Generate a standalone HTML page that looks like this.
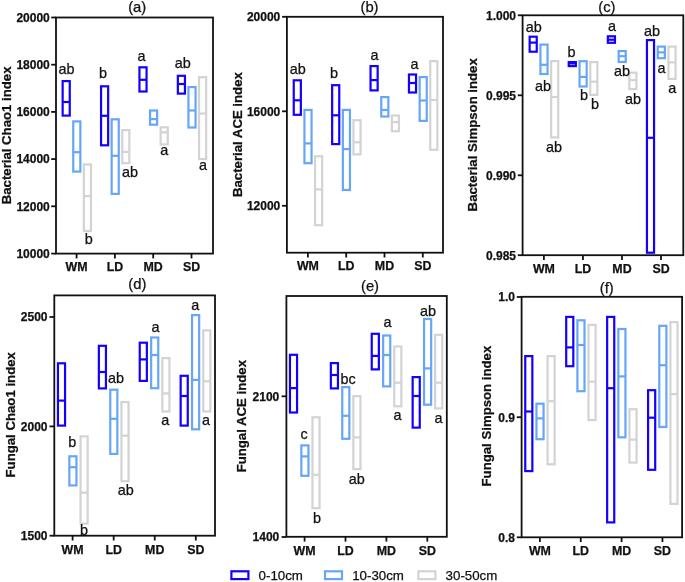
<!DOCTYPE html>
<html><head><meta charset="utf-8"><style>
html,body{margin:0;padding:0;background:#fff;}
body{width:685px;height:582px;overflow:hidden;}
svg{display:block;will-change:transform;font-family:"Liberation Sans",sans-serif;}
text{fill:#111;stroke:#111;stroke-width:0.25px;}
</style></head><body>
<svg width="685" height="582" viewBox="0 0 685 582">
<rect width="685" height="582" fill="#fff"/>
<g fill="none" stroke-width="2.2"><rect x="62.65" y="81.1" width="7.1" height="34.5" stroke="#1400ff"/><line x1="62.65" x2="69.75" y1="102" y2="102" stroke="#1400ff"/><rect x="73.25" y="121.4" width="7.1" height="50.2" stroke="#65a6f9"/><line x1="73.25" x2="80.35" y1="152.2" y2="152.2" stroke="#65a6f9"/><rect x="83.85" y="164.4" width="7.1" height="66.6" stroke="#d3d3d3"/><line x1="83.85" x2="90.95" y1="196.1" y2="196.1" stroke="#d3d3d3"/><rect x="101.05" y="86.3" width="7.1" height="59" stroke="#1400ff"/><line x1="101.05" x2="108.15" y1="115.8" y2="115.8" stroke="#1400ff"/><rect x="111.65" y="119.3" width="7.1" height="74.6" stroke="#65a6f9"/><line x1="111.65" x2="118.75" y1="155.8" y2="155.8" stroke="#65a6f9"/><rect x="122.25" y="130.1" width="7.1" height="33.1" stroke="#d3d3d3"/><line x1="122.25" x2="129.35" y1="151.9" y2="151.9" stroke="#d3d3d3"/><rect x="139.45" y="67.3" width="7.1" height="24.2" stroke="#1400ff"/><line x1="139.45" x2="146.55" y1="79.8" y2="79.8" stroke="#1400ff"/><rect x="150.05" y="110.5" width="7.1" height="14.2" stroke="#65a6f9"/><line x1="150.05" x2="157.15" y1="119.1" y2="119.1" stroke="#65a6f9"/><rect x="160.65" y="127.3" width="7.1" height="17.1" stroke="#d3d3d3"/><line x1="160.65" x2="167.75" y1="132.3" y2="132.3" stroke="#d3d3d3"/><rect x="177.85" y="75.8" width="7.1" height="17.8" stroke="#1400ff"/><line x1="177.85" x2="184.95" y1="84" y2="84" stroke="#1400ff"/><rect x="188.45" y="87.1" width="7.1" height="40.4" stroke="#65a6f9"/><line x1="188.45" x2="195.55" y1="110.5" y2="110.5" stroke="#65a6f9"/><rect x="199.05" y="77.2" width="7.1" height="81.9" stroke="#d3d3d3"/><line x1="199.05" x2="206.15" y1="113.5" y2="113.5" stroke="#d3d3d3"/></g>
<g fill="none" stroke="#111111" stroke-width="1.8"><rect x="56" y="17.5" width="157" height="236.1"/><line x1="76.6" x2="76.6" y1="253.6" y2="258.4"/><line x1="114.9" x2="114.9" y1="253.6" y2="258.4"/><line x1="153.2" x2="153.2" y1="253.6" y2="258.4"/><line x1="191.5" x2="191.5" y1="253.6" y2="258.4"/><line x1="51.2" x2="56" y1="17.5" y2="17.5"/><line x1="51.2" x2="56" y1="64.7" y2="64.7"/><line x1="51.2" x2="56" y1="111.9" y2="111.9"/><line x1="51.2" x2="56" y1="159.1" y2="159.1"/><line x1="51.2" x2="56" y1="206.3" y2="206.3"/><line x1="51.2" x2="56" y1="253.6" y2="253.6"/></g>
<g font-weight="bold" font-size="12.0" text-anchor="end"><text x="49.8" y="21.82">20000</text><text x="49.8" y="69.02">18000</text><text x="49.8" y="116.22">16000</text><text x="49.8" y="163.42">14000</text><text x="49.8" y="210.62">12000</text><text x="49.8" y="257.92">10000</text></g>
<g font-weight="bold" font-size="12.4" text-anchor="middle"><text x="76.6" y="271">WM</text><text x="114.9" y="271">LD</text><text x="153.2" y="271">MD</text><text x="191.5" y="271">SD</text></g>
<text font-weight="bold" font-size="13.2" text-anchor="middle" transform="translate(6 135.4) rotate(-90)" y="4.75">Bacterial Chao1 index</text>
<text font-size="14.8" text-anchor="middle" x="137.2" y="12">(a)</text>
<g font-size="14.4" text-anchor="middle"><text x="66.6" y="74.2">ab</text><text x="103" y="78.4">b</text><text x="88.8" y="244">b</text><text x="130" y="177.4">ab</text><text x="141.6" y="61.3">a</text><text x="164.2" y="155.1">a</text><text x="182.8" y="67.9">ab</text><text x="202.9" y="169.8">a</text></g>
<g fill="none" stroke-width="2.2"><rect x="293.75" y="80.3" width="7.1" height="34.5" stroke="#1400ff"/><line x1="293.75" x2="300.85" y1="100.3" y2="100.3" stroke="#1400ff"/><rect x="304.45" y="109.9" width="7.1" height="53.3" stroke="#65a6f9"/><line x1="304.45" x2="311.55" y1="143.4" y2="143.4" stroke="#65a6f9"/><rect x="315.05" y="156.3" width="7.1" height="68.9" stroke="#d3d3d3"/><line x1="315.05" x2="322.15" y1="189.4" y2="189.4" stroke="#d3d3d3"/><rect x="332.15" y="85.2" width="7.1" height="58.9" stroke="#1400ff"/><line x1="332.15" x2="339.25" y1="115.3" y2="115.3" stroke="#1400ff"/><rect x="342.85" y="109.9" width="7.1" height="80.1" stroke="#65a6f9"/><line x1="342.85" x2="349.95" y1="149.1" y2="149.1" stroke="#65a6f9"/><rect x="353.45" y="120.2" width="7.1" height="34.2" stroke="#d3d3d3"/><line x1="353.45" x2="360.55" y1="142.3" y2="142.3" stroke="#d3d3d3"/><rect x="370.55" y="66.1" width="7.1" height="24.3" stroke="#1400ff"/><line x1="370.55" x2="377.65" y1="80.1" y2="80.1" stroke="#1400ff"/><rect x="381.25" y="97.1" width="7.1" height="19.4" stroke="#65a6f9"/><line x1="381.25" x2="388.35" y1="110" y2="110" stroke="#65a6f9"/><rect x="391.85" y="115.5" width="7.1" height="15.7" stroke="#d3d3d3"/><line x1="391.85" x2="398.95" y1="122.1" y2="122.1" stroke="#d3d3d3"/><rect x="408.95" y="74.5" width="7.1" height="18" stroke="#1400ff"/><line x1="408.95" x2="416.05" y1="83" y2="83" stroke="#1400ff"/><rect x="419.65" y="77.1" width="7.1" height="43.8" stroke="#65a6f9"/><line x1="419.65" x2="426.75" y1="100.5" y2="100.5" stroke="#65a6f9"/><rect x="430.25" y="61.1" width="7.1" height="88.7" stroke="#d3d3d3"/><line x1="430.25" x2="437.35" y1="100" y2="100" stroke="#d3d3d3"/></g>
<g fill="none" stroke="#111111" stroke-width="1.8"><rect x="286.9" y="16.8" width="156.1" height="235.9"/><line x1="307.9" x2="307.9" y1="252.7" y2="257.5"/><line x1="346.2" x2="346.2" y1="252.7" y2="257.5"/><line x1="384.5" x2="384.5" y1="252.7" y2="257.5"/><line x1="422.8" x2="422.8" y1="252.7" y2="257.5"/><line x1="282.1" x2="286.9" y1="16.8" y2="16.8"/><line x1="282.1" x2="286.9" y1="111.3" y2="111.3"/><line x1="282.1" x2="286.9" y1="205.8" y2="205.8"/></g>
<g font-weight="bold" font-size="12.0" text-anchor="end"><text x="280.3" y="21.12">20000</text><text x="280.3" y="115.62">16000</text><text x="280.3" y="210.12">12000</text></g>
<g font-weight="bold" font-size="12.4" text-anchor="middle"><text x="307.9" y="270">WM</text><text x="346.2" y="270">LD</text><text x="384.5" y="270">MD</text><text x="422.8" y="270">SD</text></g>
<text font-weight="bold" font-size="13.2" text-anchor="middle" transform="translate(236.8 134.6) rotate(-90)" y="4.75">Bacterial ACE index</text>
<text font-size="14.8" text-anchor="middle" x="369.5" y="11.8">(b)</text>
<g font-size="14.4" text-anchor="middle"><text x="297.7" y="74.4">ab</text><text x="334.1" y="77.9">b</text><text x="374.4" y="60.2">a</text><text x="414.5" y="69.3">a</text></g>
<g fill="none" stroke-width="2.2"><rect x="529.65" y="36.7" width="7.1" height="15" stroke="#1400ff"/><line x1="529.65" x2="536.75" y1="42.6" y2="42.6" stroke="#1400ff"/><rect x="540.45" y="44.6" width="7.1" height="29.4" stroke="#65a6f9"/><line x1="540.45" x2="547.55" y1="64.8" y2="64.8" stroke="#65a6f9"/><rect x="551.15" y="61.1" width="7.1" height="76.3" stroke="#d3d3d3"/><line x1="551.15" x2="558.25" y1="97" y2="97" stroke="#d3d3d3"/><rect x="568.75" y="62.1" width="7.1" height="4" stroke="#1400ff"/><line x1="568.75" x2="575.85" y1="63.4" y2="63.4" stroke="#1400ff"/><rect x="579.55" y="61.2" width="7.1" height="25.3" stroke="#65a6f9"/><line x1="579.55" x2="586.65" y1="76.9" y2="76.9" stroke="#65a6f9"/><rect x="590.25" y="62.1" width="7.1" height="32.8" stroke="#d3d3d3"/><line x1="590.25" x2="597.35" y1="81.7" y2="81.7" stroke="#d3d3d3"/><rect x="607.85" y="36.3" width="7.1" height="6.5" stroke="#1400ff"/><line x1="607.85" x2="614.95" y1="39.7" y2="39.7" stroke="#1400ff"/><rect x="618.65" y="51.1" width="7.1" height="10.9" stroke="#65a6f9"/><line x1="618.65" x2="625.75" y1="56.2" y2="56.2" stroke="#65a6f9"/><rect x="629.35" y="72.7" width="7.1" height="16.4" stroke="#d3d3d3"/><line x1="629.35" x2="636.45" y1="80" y2="80" stroke="#d3d3d3"/><rect x="646.95" y="40.1" width="7.1" height="212.6" stroke="#1400ff"/><line x1="646.95" x2="654.05" y1="137.8" y2="137.8" stroke="#1400ff"/><rect x="657.75" y="46.6" width="7.1" height="11.6" stroke="#65a6f9"/><line x1="657.75" x2="664.85" y1="52.4" y2="52.4" stroke="#65a6f9"/><rect x="668.45" y="46.6" width="7.1" height="32.3" stroke="#d3d3d3"/><line x1="668.45" x2="675.55" y1="62.4" y2="62.4" stroke="#d3d3d3"/></g>
<g fill="none" stroke="#111111" stroke-width="1.8"><rect x="522.6" y="15.3" width="160.7" height="239.9"/><line x1="543.9" x2="543.9" y1="255.2" y2="260"/><line x1="582.94" x2="582.94" y1="255.2" y2="260"/><line x1="621.98" x2="621.98" y1="255.2" y2="260"/><line x1="661.02" x2="661.02" y1="255.2" y2="260"/><line x1="517.8" x2="522.6" y1="15.3" y2="15.3"/><line x1="517.8" x2="522.6" y1="95.3" y2="95.3"/><line x1="517.8" x2="522.6" y1="175.3" y2="175.3"/><line x1="517.8" x2="522.6" y1="255.2" y2="255.2"/></g>
<g font-weight="bold" font-size="12.0" text-anchor="end"><text x="516" y="19.62">1.000</text><text x="516" y="99.62">0.995</text><text x="516" y="179.62">0.990</text><text x="516" y="259.52">0.985</text></g>
<g font-weight="bold" font-size="12.4" text-anchor="middle"><text x="543.9" y="272.6">WM</text><text x="582.94" y="272.6">LD</text><text x="621.98" y="272.6">MD</text><text x="661.02" y="272.6">SD</text></g>
<text font-weight="bold" font-size="13.2" text-anchor="middle" transform="translate(472.1 134.8) rotate(-90)" y="4.75">Bacterial Simpson index</text>
<text font-size="14.8" text-anchor="middle" x="606.9" y="11.8">(c)</text>
<g font-size="14.4" text-anchor="middle"><text x="533.7" y="31.5">ab</text><text x="543.1" y="90.6">ab</text><text x="554" y="152">ab</text><text x="571.6" y="56.5">b</text><text x="583.9" y="100.4">b</text><text x="595" y="109.4">b</text><text x="612.1" y="31.2">a</text><text x="622" y="76.2">ab</text><text x="632.9" y="103.6">ab</text><text x="652" y="35.9">ab</text><text x="661.4" y="73.4">a</text><text x="672.2" y="92.7">a</text></g>
<g fill="none" stroke-width="2.2"><rect x="57.95" y="363.3" width="7.1" height="62.3" stroke="#1400ff"/><line x1="57.95" x2="65.05" y1="400.6" y2="400.6" stroke="#1400ff"/><rect x="69.35" y="456.3" width="7.1" height="29.1" stroke="#65a6f9"/><line x1="69.35" x2="76.45" y1="467.2" y2="467.2" stroke="#65a6f9"/><rect x="80.55" y="436.4" width="7.1" height="87.2" stroke="#d3d3d3"/><line x1="80.55" x2="87.65" y1="492.7" y2="492.7" stroke="#d3d3d3"/><rect x="98.85" y="345.8" width="7.1" height="42.6" stroke="#1400ff"/><line x1="98.85" x2="105.95" y1="372" y2="372" stroke="#1400ff"/><rect x="110.25" y="389.7" width="7.1" height="64.2" stroke="#65a6f9"/><line x1="110.25" x2="117.35" y1="418.8" y2="418.8" stroke="#65a6f9"/><rect x="121.45" y="402" width="7.1" height="79.2" stroke="#d3d3d3"/><line x1="121.45" x2="128.55" y1="435.7" y2="435.7" stroke="#d3d3d3"/><rect x="139.75" y="342.7" width="7.1" height="38.2" stroke="#1400ff"/><line x1="139.75" x2="146.85" y1="359.4" y2="359.4" stroke="#1400ff"/><rect x="151.15" y="337.5" width="7.1" height="50.7" stroke="#65a6f9"/><line x1="151.15" x2="158.25" y1="355" y2="355" stroke="#65a6f9"/><rect x="162.35" y="358.1" width="7.1" height="53.4" stroke="#d3d3d3"/><line x1="162.35" x2="169.45" y1="393.4" y2="393.4" stroke="#d3d3d3"/><rect x="180.65" y="375.8" width="7.1" height="49.8" stroke="#1400ff"/><line x1="180.65" x2="187.75" y1="396" y2="396" stroke="#1400ff"/><rect x="192.05" y="315.1" width="7.1" height="114.2" stroke="#65a6f9"/><line x1="192.05" x2="199.15" y1="379.9" y2="379.9" stroke="#65a6f9"/><rect x="203.25" y="330.4" width="7.1" height="81.1" stroke="#d3d3d3"/><line x1="203.25" x2="210.35" y1="381.3" y2="381.3" stroke="#d3d3d3"/></g>
<g fill="none" stroke="#111111" stroke-width="1.8"><rect x="54.3" y="295.4" width="160.7" height="240.3"/><line x1="72.6" x2="72.6" y1="535.7" y2="540.5"/><line x1="113.67" x2="113.67" y1="535.7" y2="540.5"/><line x1="154.74" x2="154.74" y1="535.7" y2="540.5"/><line x1="195.81" x2="195.81" y1="535.7" y2="540.5"/><line x1="49.5" x2="54.3" y1="317" y2="317"/><line x1="49.5" x2="54.3" y1="426.4" y2="426.4"/><line x1="49.5" x2="54.3" y1="535.7" y2="535.7"/></g>
<g font-weight="bold" font-size="12.0" text-anchor="end"><text x="47.5" y="321.32">2500</text><text x="47.5" y="430.72">2000</text><text x="47.5" y="540.02">1500</text></g>
<g font-weight="bold" font-size="12.4" text-anchor="middle"><text x="72.6" y="554">WM</text><text x="113.67" y="554">LD</text><text x="154.74" y="554">MD</text><text x="195.81" y="554">SD</text></g>
<text font-weight="bold" font-size="13.2" text-anchor="middle" transform="translate(10 414.8) rotate(-90)" y="4.75">Fungal Chao1 index</text>
<text font-size="14.8" text-anchor="middle" x="137.4" y="288.8">(d)</text>
<g font-size="14.4" text-anchor="middle"><text x="72.2" y="446.7">b</text><text x="84" y="535.3">b</text><text x="116" y="383.2">ab</text><text x="125.7" y="495">ab</text><text x="155.5" y="332.4">a</text><text x="165.2" y="424.6">a</text><text x="195.2" y="310.3">a</text><text x="206.1" y="424.6">a</text></g>
<g fill="none" stroke-width="2.2"><rect x="289.95" y="354.8" width="7.1" height="57.7" stroke="#1400ff"/><line x1="289.95" x2="297.05" y1="388.1" y2="388.1" stroke="#1400ff"/><rect x="301.35" y="445.4" width="7.1" height="30.4" stroke="#65a6f9"/><line x1="301.35" x2="308.45" y1="456.4" y2="456.4" stroke="#65a6f9"/><rect x="312.45" y="417.3" width="7.1" height="90.8" stroke="#d3d3d3"/><line x1="312.45" x2="319.55" y1="474.8" y2="474.8" stroke="#d3d3d3"/><rect x="330.85" y="363.1" width="7.1" height="25.3" stroke="#1400ff"/><line x1="330.85" x2="337.95" y1="375" y2="375" stroke="#1400ff"/><rect x="342.25" y="387.1" width="7.1" height="51.7" stroke="#65a6f9"/><line x1="342.25" x2="349.35" y1="415.8" y2="415.8" stroke="#65a6f9"/><rect x="353.35" y="396.1" width="7.1" height="73" stroke="#d3d3d3"/><line x1="353.35" x2="360.45" y1="437.4" y2="437.4" stroke="#d3d3d3"/><rect x="371.75" y="333.8" width="7.1" height="35.6" stroke="#1400ff"/><line x1="371.75" x2="378.85" y1="355.9" y2="355.9" stroke="#1400ff"/><rect x="383.15" y="335.5" width="7.1" height="50.9" stroke="#65a6f9"/><line x1="383.15" x2="390.25" y1="355" y2="355" stroke="#65a6f9"/><rect x="394.25" y="346.5" width="7.1" height="59.8" stroke="#d3d3d3"/><line x1="394.25" x2="401.35" y1="382.7" y2="382.7" stroke="#d3d3d3"/><rect x="412.65" y="377.1" width="7.1" height="50.5" stroke="#1400ff"/><line x1="412.65" x2="419.75" y1="396" y2="396" stroke="#1400ff"/><rect x="424.05" y="319" width="7.1" height="85.7" stroke="#65a6f9"/><line x1="424.05" x2="431.15" y1="368.4" y2="368.4" stroke="#65a6f9"/><rect x="435.15" y="334.8" width="7.1" height="73.6" stroke="#d3d3d3"/><line x1="435.15" x2="442.25" y1="382.7" y2="382.7" stroke="#d3d3d3"/></g>
<g fill="none" stroke="#111111" stroke-width="1.8"><rect x="286.4" y="296" width="160.4" height="240.8"/><line x1="304.6" x2="304.6" y1="536.8" y2="541.6"/><line x1="345.5" x2="345.5" y1="536.8" y2="541.6"/><line x1="386.4" x2="386.4" y1="536.8" y2="541.6"/><line x1="427.3" x2="427.3" y1="536.8" y2="541.6"/><line x1="281.6" x2="286.4" y1="396.3" y2="396.3"/><line x1="281.6" x2="286.4" y1="537" y2="537"/></g>
<g font-weight="bold" font-size="12.0" text-anchor="end"><text x="279.3" y="400.62">2100</text><text x="279.3" y="541.32">1400</text></g>
<g font-weight="bold" font-size="12.4" text-anchor="middle"><text x="304.6" y="555">WM</text><text x="345.5" y="555">LD</text><text x="386.4" y="555">MD</text><text x="427.3" y="555">SD</text></g>
<text font-weight="bold" font-size="13.2" text-anchor="middle" transform="translate(241.6 416.2) rotate(-90)" y="4.75">Fungal ACE index</text>
<text font-size="14.8" text-anchor="middle" x="370" y="291">(e)</text>
<g font-size="14.4" text-anchor="middle"><text x="304.2" y="438.5">c</text><text x="317.1" y="523">b</text><text x="348.2" y="383.7">bc</text><text x="356.7" y="483.6">ab</text><text x="387.5" y="327.2">a</text><text x="397.4" y="420.2">a</text><text x="428" y="315.8">ab</text><text x="438.5" y="422.5">a</text></g>
<g fill="none" stroke-width="2.2"><rect x="525.25" y="356.1" width="7.1" height="115" stroke="#1400ff"/><line x1="525.25" x2="532.35" y1="411.5" y2="411.5" stroke="#1400ff"/><rect x="536.45" y="403.7" width="7.1" height="35.5" stroke="#65a6f9"/><line x1="536.45" x2="543.55" y1="418.4" y2="418.4" stroke="#65a6f9"/><rect x="547.55" y="356.1" width="7.1" height="108.2" stroke="#d3d3d3"/><line x1="547.55" x2="554.65" y1="401.2" y2="401.2" stroke="#d3d3d3"/><rect x="566.2" y="316.9" width="7.1" height="49.3" stroke="#1400ff"/><line x1="566.2" x2="573.3" y1="347.4" y2="347.4" stroke="#1400ff"/><rect x="577.4" y="320.3" width="7.1" height="70.9" stroke="#65a6f9"/><line x1="577.4" x2="584.5" y1="345" y2="345" stroke="#65a6f9"/><rect x="588.5" y="324.9" width="7.1" height="95.2" stroke="#d3d3d3"/><line x1="588.5" x2="595.6" y1="381.7" y2="381.7" stroke="#d3d3d3"/><rect x="607.15" y="316.9" width="7.1" height="205.5" stroke="#1400ff"/><line x1="607.15" x2="614.25" y1="388.2" y2="388.2" stroke="#1400ff"/><rect x="618.35" y="329" width="7.1" height="108.3" stroke="#65a6f9"/><line x1="618.35" x2="625.45" y1="376.4" y2="376.4" stroke="#65a6f9"/><rect x="629.45" y="409.2" width="7.1" height="53.4" stroke="#d3d3d3"/><line x1="629.45" x2="636.55" y1="439.6" y2="439.6" stroke="#d3d3d3"/><rect x="648.1" y="390.2" width="7.1" height="79.6" stroke="#1400ff"/><line x1="648.1" x2="655.2" y1="417.7" y2="417.7" stroke="#1400ff"/><rect x="659.3" y="325.8" width="7.1" height="101.2" stroke="#65a6f9"/><line x1="659.3" x2="666.4" y1="365.2" y2="365.2" stroke="#65a6f9"/><rect x="670.4" y="322.1" width="7.1" height="181.8" stroke="#d3d3d3"/><line x1="670.4" x2="677.5" y1="394.1" y2="394.1" stroke="#d3d3d3"/></g>
<g fill="none" stroke="#111111" stroke-width="1.8"><rect x="521.6" y="296.8" width="160.5" height="240.5"/><line x1="539.9" x2="539.9" y1="537.3" y2="542.1"/><line x1="580.75" x2="580.75" y1="537.3" y2="542.1"/><line x1="621.6" x2="621.6" y1="537.3" y2="542.1"/><line x1="662.45" x2="662.45" y1="537.3" y2="542.1"/><line x1="516.8" x2="521.6" y1="297" y2="297"/><line x1="516.8" x2="521.6" y1="417.2" y2="417.2"/><line x1="516.8" x2="521.6" y1="537.3" y2="537.3"/></g>
<g font-weight="bold" font-size="12.0" text-anchor="end"><text x="515" y="301.32">1.0</text><text x="515" y="421.52">0.9</text><text x="515" y="541.62">0.8</text></g>
<g font-weight="bold" font-size="12.4" text-anchor="middle"><text x="539.9" y="555.2">WM</text><text x="580.75" y="555.2">LD</text><text x="621.6" y="555.2">MD</text><text x="662.45" y="555.2">SD</text></g>
<text font-weight="bold" font-size="13.2" text-anchor="middle" transform="translate(486.5 416.1) rotate(-90)" y="4.75">Fungal Simpson index</text>
<text font-size="14.8" text-anchor="middle" x="606.7" y="292.5">(f)</text>
<g font-size="14.4" text-anchor="middle"></g>
<rect x="231.4" y="571.3" width="17" height="7.8" fill="none" stroke="#1400ff" stroke-width="2.2"/><text x="258.6" y="579.6" font-size="13.3">0-10cm</text><rect x="325" y="571.3" width="17" height="7.8" fill="none" stroke="#65a6f9" stroke-width="2.2"/><text x="352.2" y="579.6" font-size="13.3">10-30cm</text><rect x="418.4" y="571.3" width="17" height="7.8" fill="none" stroke="#d3d3d3" stroke-width="2.2"/><text x="445.6" y="579.6" font-size="13.3">30-50cm</text>
</svg>
</body></html>
